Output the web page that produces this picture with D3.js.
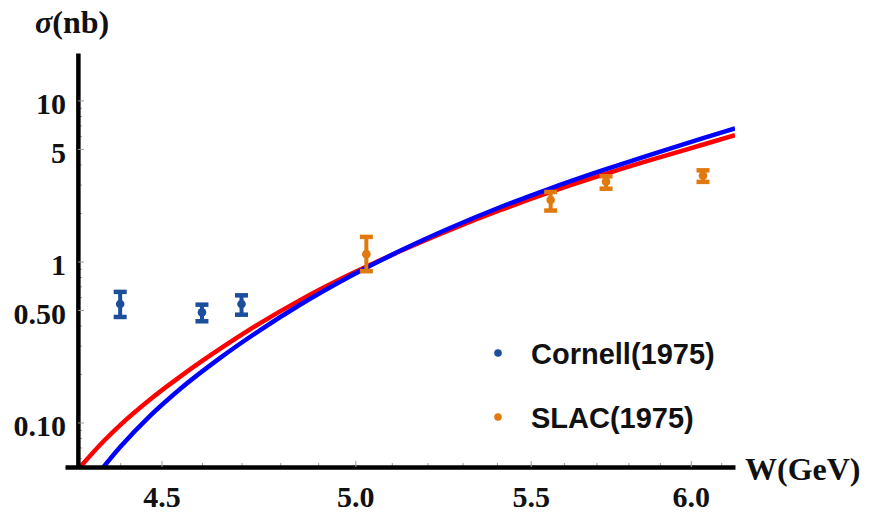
<!DOCTYPE html>
<html>
<head>
<meta charset="utf-8">
<script src="https://cdn.jsdelivr.net/npm/d3@7"></script>
<style>
    body { margin: 0; background: #fff; }
    .tick text { font-family: "Liberation Serif", "Times New Roman", serif; font-weight: bold; font-size: 30px; fill: #111; }
    .axis-title { font-family: "Liberation Serif", "Times New Roman", serif; font-weight: bold; font-size: 32px; fill: #111; }
    .legend-label { font-family: "Liberation Sans", Arial, sans-serif; font-weight: bold; font-size: 29px; fill: #111; }
</style>
</head>
<body>
<div id="chart"></div>
<script>
// データ (W in GeV, sigma in nb)
const cornellW = [4.40, 4.60, 4.70];
const cornellSigma = [0.544, 0.483, 0.544];
const cornellLow = [0.452, 0.425, 0.467];
const cornellHigh = [0.647, 0.539, 0.616];

const slacW = [5.03, 5.56, 5.73, 6.04];
const slacSigma = [1.11, 2.41, 3.13, 3.41];
const slacLow = [0.87, 2.07, 2.83, 3.12];
const slacHigh = [1.42, 2.70, 3.38, 3.68];

// 理論曲線
const blueW = [4.345, 4.40, 4.472, 4.545, 4.645, 4.748, 4.852, 4.986, 5.123, 5.264, 5.409, 5.558, 5.711, 5.869, 6.030, 6.146];
const blueSigma = [0.0472, 0.0704, 0.110, 0.161, 0.251, 0.375, 0.538, 0.809, 1.164, 1.613, 2.170, 2.837, 3.634, 4.596, 5.751, 6.713];
const redW = [4.30, 4.361, 4.40, 4.472, 4.545, 4.645, 4.748, 4.852, 4.986, 5.123, 5.264, 5.409, 5.558, 5.711, 5.869, 6.030, 6.146];
const redSigma = [0.0510, 0.0767, 0.0964, 0.139, 0.192, 0.286, 0.414, 0.575, 0.831, 1.156, 1.568, 2.080, 2.691, 3.409, 4.253, 5.250, 6.082];

const xTicks = [4.5, 5.0, 5.5, 6.0];
const xMinorTicks = [4.3, 4.4, 4.6, 4.7, 4.8, 4.9, 5.1, 5.2, 5.3, 5.4, 5.6, 5.7, 5.8, 5.9, 6.1];
const yTicks = [0.1, 0.5, 1, 5, 10];
const yTickLabels = ['0.10', '0.50', '1', '5', '10'];
const yMinorTicks = [0.06, 0.07, 0.08, 0.09, 0.2, 0.3, 0.4, 0.6, 0.7, 0.8, 0.9, 2, 3, 4, 6, 7, 8, 9];

const legendLabels = ['Cornell(1975)', 'SLAC(1975)'];
const cornellColor = '#1b4f9c';
const slacColor = '#e07a0e';

const width = 877, height = 514;
const xAxisY = 467, yAxisW = 4.30;

const x = d3.scaleLog().domain([4.27, 6.146]).range([65, 735]);
const y = d3.scaleLog().domain([0.0529, 19.7]).range([xAxisY, 53]);
const yAxisX = x(yAxisW);

const svg = d3.select('#chart').append('svg')
    .attr('width', width)
    .attr('height', height);

// クリップ
svg.append('clipPath').attr('id', 'plot-clip')
    .append('rect')
    .attr('x', yAxisX).attr('y', 53)
    .attr('width', 735 - yAxisX).attr('height', xAxisY - 53);

// 曲線
const line = d3.line()
    .x(d => x(d[0]))
    .y(d => y(d[1]))
    .curve(d3.curveMonotoneX);

const curves = svg.append('g').attr('clip-path', 'url(#plot-clip)');
curves.append('path')
    .datum(redW.map((w, i) => [w, redSigma[i]]))
    .attr('d', line)
    .attr('fill', 'none')
    .attr('stroke', '#ff0000')
    .attr('stroke-width', 4.5);
curves.append('path')
    .datum(blueW.map((w, i) => [w, blueSigma[i]]))
    .attr('d', line)
    .attr('fill', 'none')
    .attr('stroke', '#0000ff')
    .attr('stroke-width', 4.5);

// 軸
const xMinor = svg.append('g').attr('transform', `translate(0,${xAxisY})`)
    .call(d3.axisBottom(x).tickValues(xMinorTicks).tickSize(-4).tickFormat(''));
xMinor.select('.domain').remove();
xMinor.selectAll('.tick line').attr('stroke', '#999').attr('stroke-width', 1);

const yMinor = svg.append('g').attr('transform', `translate(${yAxisX},0)`)
    .call(d3.axisLeft(y).tickValues(yMinorTicks).tickSize(-4).tickFormat(''));
yMinor.select('.domain').remove();
yMinor.selectAll('.tick line').attr('stroke', '#999').attr('stroke-width', 1);

const xAxis = svg.append('g').attr('transform', `translate(0,${xAxisY})`)
    .call(d3.axisBottom(x)
        .tickValues(xTicks)
        .tickSize(-6)
        .tickSizeOuter(0)
        .tickPadding(18.5)
        .tickFormat(d3.format('.1f')));
xAxis.select('.domain').attr('stroke', '#000').attr('stroke-width', 4.5);
xAxis.selectAll('.tick line').attr('stroke', '#999').attr('stroke-width', 1);
xAxis.selectAll('.tick text').attr('font-size', null).attr('font-family', null);

const yAxis = svg.append('g').attr('transform', `translate(${yAxisX},0)`)
    .call(d3.axisLeft(y)
        .tickValues(yTicks)
        .tickSize(-6)
        .tickSizeOuter(0)
        .tickPadding(12)
        .tickFormat((d, i) => yTickLabels[i]));
yAxis.select('.domain').attr('stroke', '#000').attr('stroke-width', 4.5);
yAxis.selectAll('.tick line').attr('stroke', '#999').attr('stroke-width', 1);
yAxis.selectAll('.tick text').attr('font-size', null).attr('font-family', null).attr('dy', '0.45em');

// 軸タイトル
const yTitle = svg.append('text').attr('class', 'axis-title').attr('x', 35).attr('y', 33);
yTitle.append('tspan').attr('font-style', 'italic').text('σ');
yTitle.append('tspan').text('(nb)');

svg.append('text').attr('class', 'axis-title')
    .attr('x', 745).attr('y', 480)
    .text('W(GeV)');

// データ点とエラーバー
function drawPoints(ws, sig, lo, hi, color) {
    const g = svg.append('g');
    ws.forEach((w, i) => {
        const cx = x(w);
        g.append('line')
            .attr('x1', cx).attr('x2', cx)
            .attr('y1', y(lo[i])).attr('y2', y(hi[i]))
            .attr('stroke', color).attr('stroke-width', 4);
        [lo[i], hi[i]].forEach(v => {
            g.append('line')
                .attr('x1', cx - 6.5).attr('x2', cx + 6.5)
                .attr('y1', y(v)).attr('y2', y(v))
                .attr('stroke', color).attr('stroke-width', 4.5);
        });
        g.append('circle')
            .attr('cx', cx).attr('cy', y(sig[i]))
            .attr('r', 4.3)
            .attr('fill', color);
    });
}
drawPoints(cornellW, cornellSigma, cornellLow, cornellHigh, cornellColor);
drawPoints(slacW, slacSigma, slacLow, slacHigh, slacColor);

// 凡例
const legendColors = [cornellColor, slacColor];
legendLabels.forEach((label, i) => {
    const cy = 353 + i * 64;
    svg.append('circle')
        .attr('cx', 498).attr('cy', cy).attr('r', 3.8)
        .attr('fill', legendColors[i]);
    svg.append('text').attr('class', 'legend-label')
        .attr('x', 531).attr('y', cy + 10.5)
        .text(label);
});
</script>
</body>
</html>
